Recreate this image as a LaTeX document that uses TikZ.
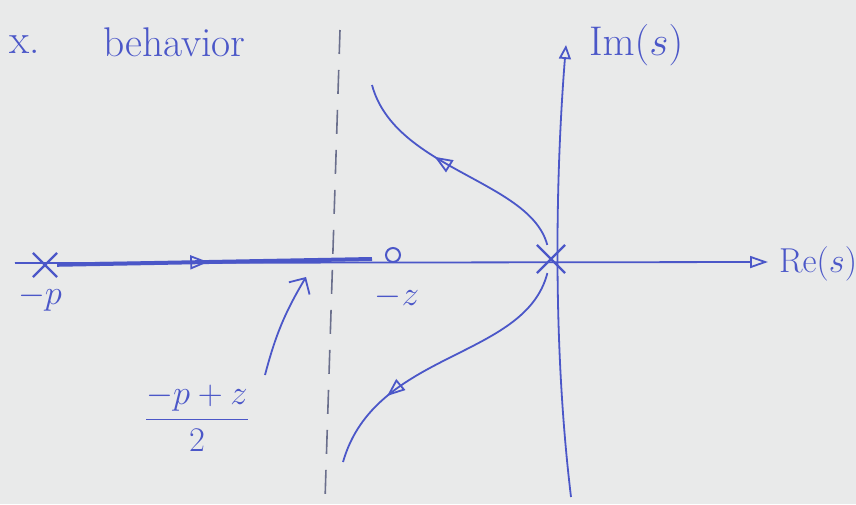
\documentclass[tikz,border=0pt]{standalone}
\usetikzlibrary{positioning, arrows.meta, decorations.markings, shapes.misc}
\definecolor{pen}{HTML}{4B57C8}
\definecolor{paper}{HTML}{E9EAEA}
\definecolor{pencil}{HTML}{6A6F8C}

\begin{document}
\begin{tikzpicture}[x=0.5pt, y=-0.5pt,
    stroke/.style={pen, line width=0.9pt},
    kreuz/.style={cross out, draw=pen, line width=1.1pt, minimum size=13pt, inner sep=0pt},
    nullst/.style={circle, draw=pen, line width=1pt, minimum size=7pt, inner sep=0pt},
    beschr/.style={text=pen, font=\LARGE},
    spitze/.style={postaction={decorate}, decoration={markings,
        mark=at position #1 with {\arrow{Triangle[open, length=9pt, width=7pt, line width=0.9pt]}}}}]
  \fill[paper] (0,0) rectangle (856,504);
  \useasboundingbox (0,0) rectangle (856,504);
  \clip (0,0) rectangle (856,504);
  % poles and zero
  \node[kreuz] (ursprung) at (551,259) {};
  \node[kreuz, minimum size=11pt] (polP) at (45,265) {};
  \node[nullst] (nullZ) at (393,255) {};
  \node[beschr] (labP) at (40,298) {$-p$};
  \node[beschr] (labZ) at (397,297) {$-z$};
  \node[beschr, anchor=west, font=\huge] (nummer) at (2,45) {x.};
  \node[beschr, anchor=west, font=\huge] (titel) at (96,42) {behavior};
  % axes
  \coordinate (reLinks) at (15,263);
  \coordinate (reRechts) at (768,262);
  \draw[stroke, -{Triangle[open, length=9pt, width=6pt]}] (reLinks) -- (reRechts);
  \node[beschr, anchor=west] (labRe) at (772,264) {Re$(s)$};
  \coordinate (imUnten) at (571,497);
  \coordinate (imOben) at (566,45);
  \draw[stroke, -{Triangle[open, length=7pt, width=6pt]}] (imUnten) .. controls (552,340) and (556,170) .. (imOben);
  \node[beschr, anchor=west, font=\huge] (labIm) at (582,45) {$\mathrm{Im}(s)$};
  % asymptote
  \coordinate (strichOben) at (340,30);
  \coordinate (strichUnten) at (325,500);
  \draw[pencil, line width=0.8pt, dash pattern=on 12pt off 8pt] (strichOben) -- (strichUnten);
  % locus
  \coordinate (achsEnde) at (372,259);
  \draw[stroke, line width=2pt, spitze=0.48] (polP) -- (achsEnde);
  \coordinate (obenEnde) at (372,85);
  \draw[stroke, spitze=0.6] (ursprung) .. controls (530,180) and (395,170) .. (obenEnde);
  \coordinate (untenEnde) at (343,462);
  \draw[stroke, spitze=0.72] (ursprung) .. controls (525,360) and (375,350) .. (untenEnde);
  % pointer to centroid
  \coordinate (zeigerStart) at (265,375);
  \coordinate (zeigerZiel) at (306,277);
  \draw[stroke, -{Straight Barb[length=6pt]}] (zeigerStart) to[bend left=8] (zeigerZiel);
  \node[beschr] (labMitte) at (197,418) {$\displaystyle\frac{-p+z}{2}$};
\end{tikzpicture}
\end{document}
